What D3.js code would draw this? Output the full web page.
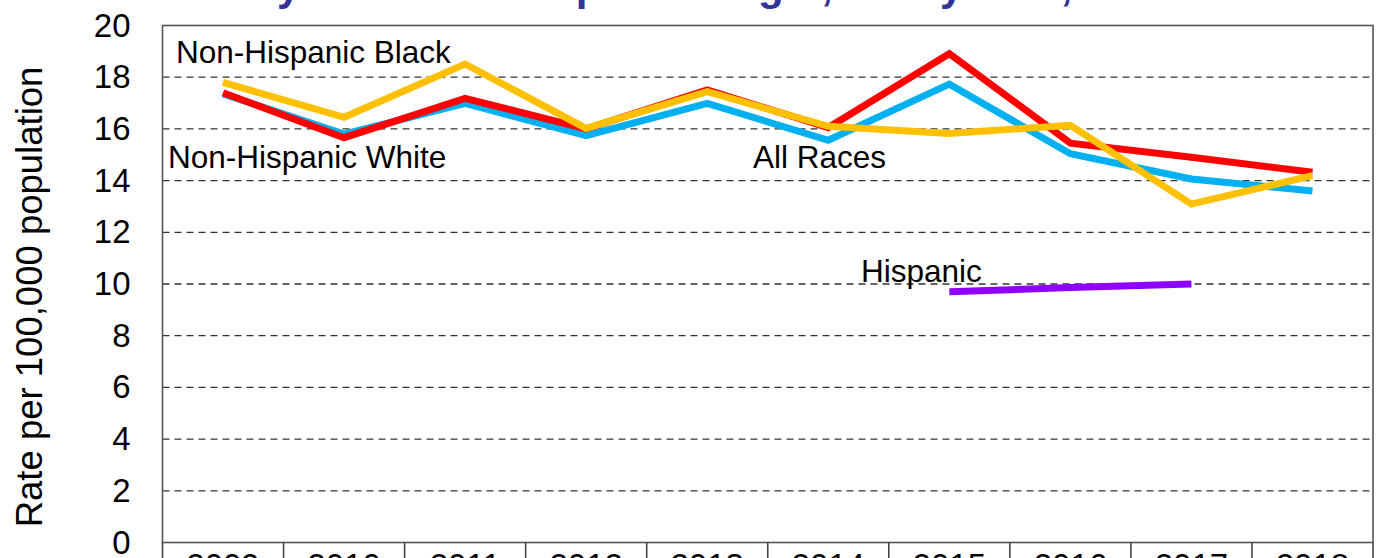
<!DOCTYPE html>
<html>

<head>
    <meta charset="UTF-8">
    <title>Rate per 100,000 population by race</title>
    <script src="https://d3js.org/d3.v7.min.js"></script>
    <style>
        body { margin: 0; background: #fff; }
        text { font-family: Arial, "Liberation Sans", sans-serif; }
    </style>
</head>

<body>
    <div id="my_dataviz"></div>

    <script type="text/javascript">

        // data
        let years = ["2009", "2010", "2011", "2012", "2013", "2014", "2015", "2016", "2017", "2018"];
        let allRaces = [17.35, 15.8, 16.99, 15.74, 16.99, 15.56, 17.73, 15.04, 14.06, 13.6];
        let nhWhite = [17.4, 15.66, 17.18, 16.0, 17.51, 16.05, 18.91, 15.45, 14.9, 14.32];
        let nhBlack = [17.8, 16.45, 18.51, 16.02, 17.44, 16.1, 15.82, 16.14, 13.09, 14.19];
        let hispanic = [null, null, null, null, null, null, 9.7, 9.86, 10.0, null];
        let yTicks = [0, 2, 4, 6, 8, 10, 12, 14, 16, 18, 20];

        let series = [
            { name: "All Races", values: allRaces, color: "#00B0F0" },
            { name: "Non-Hispanic White", values: nhWhite, color: "#FF0000" },
            { name: "Non-Hispanic Black", values: nhBlack, color: "#FFC000" },
            { name: "Hispanic", values: hispanic, color: "#9000FF" }
        ];

        // label positions (text placed by hand like in the original)
        let labels = [
            { text: "Non-Hispanic Black", x: 176, y: 63 },
            { text: "Non-Hispanic White", x: 168, y: 168 },
            { text: "All Races", x: 753, y: 168 },
            { text: "Hispanic", x: 861, y: 282 }
        ];

        let W = 1381, H = 558;
        let margin = { top: 25.5, right: 8, bottom: 15.5, left: 162.5 };

        let svg = d3.select("#my_dataviz")
            .append("svg")
            .attr("width", W)
            .attr("height", H);

        let x = d3.scaleBand()
            .domain(years)
            .range([margin.left, W - margin.right]);

        let y = d3.scaleLinear()
            .domain([0, 20])
            .range([H - margin.bottom, margin.top]);

        // title, mostly cut off at the top
        svg.append("text")
            .attr("x", -3)
            .attr("y", 0)
            .attr("font-size", 42)
            .attr("font-weight", "bold")
            .attr("fill", "#333399")
            .text("Death Rates by Race and Hispanic Origin, US by Year, 2009-2018");

        // dashed gridlines
        svg.append("g")
            .selectAll("line")
            .data(yTicks.filter(d => d > 0 && d < 20))
            .enter()
            .append("line")
            .attr("x1", margin.left)
            .attr("x2", W - margin.right)
            .attr("y1", d => y(d))
            .attr("y2", d => y(d))
            .attr("stroke", "#333")
            .attr("stroke-width", 1.3)
            .attr("stroke-dasharray", "7,5");

        // plot frame
        svg.append("rect")
            .attr("x", margin.left)
            .attr("y", margin.top)
            .attr("width", W - margin.right - margin.left)
            .attr("height", y(0) - margin.top)
            .attr("fill", "none")
            .attr("stroke", "#555")
            .attr("stroke-width", 1.6);

        // y axis labels
        let yAxis = svg.append("g")
            .attr("transform", "translate(" + margin.left + ",0)")
            .call(d3.axisLeft(y).tickValues(yTicks).tickSize(0).tickPadding(32));
        yAxis.select(".domain").remove();
        yAxis.selectAll("text")
            .attr("font-size", 33)
            .attr("font-family", "Arial, 'Liberation Sans', sans-serif")
            .attr("fill", "#000");

        // x axis as table row: boundaries and year labels
        let bounds = years.map(d => x(d)).concat([x(years[years.length - 1]) + x.bandwidth()]);
        svg.append("g")
            .selectAll("line")
            .data(bounds)
            .enter()
            .append("line")
            .attr("x1", d => d)
            .attr("x2", d => d)
            .attr("y1", y(0))
            .attr("y2", H + 20)
            .attr("stroke", "#444")
            .attr("stroke-width", 1.6);

        svg.append("g")
            .selectAll("text")
            .data(years)
            .enter()
            .append("text")
            .attr("x", d => x(d) + x.bandwidth() / 2)
            .attr("y", y(0) + 34)
            .attr("text-anchor", "middle")
            .attr("font-size", 33)
            .text(d => d);

        // y axis title
        svg.append("text")
            .attr("transform", "translate(42," + 297 + ") rotate(-90)")
            .attr("text-anchor", "middle")
            .attr("font-size", 36.5)
            .text("Rate per 100,000 population");

        // lines
        let line = d3.line()
            .defined(d => d.v != null)
            .x(d => x(d.year) + x.bandwidth() / 2)
            .y(d => y(d.v));

        svg.append("g")
            .selectAll("path")
            .data(series)
            .enter()
            .append("path")
            .attr("fill", "none")
            .attr("stroke", d => d.color)
            .attr("stroke-width", 7)
            .attr("stroke-linejoin", "miter")
            .attr("d", d => line(years.map((yr, i) => ({ year: yr, v: d.values[i] }))));

        // series labels
        svg.append("g")
            .selectAll("text")
            .data(labels)
            .enter()
            .append("text")
            .attr("x", d => d.x)
            .attr("y", d => d.y)
            .attr("font-size", 31.5)
            .attr("fill", "#000")
            .text(d => d.text);

    </script>
</body>

</html>
